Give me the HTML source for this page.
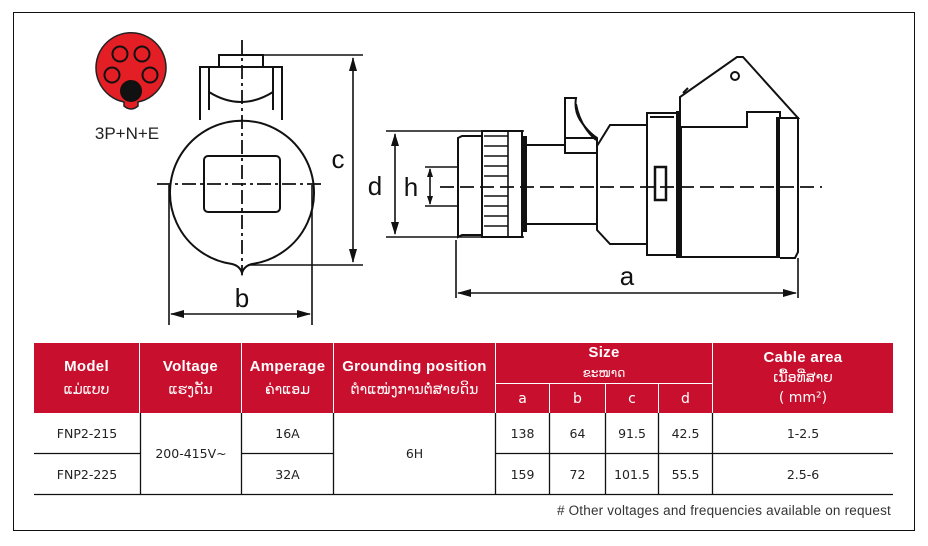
<!DOCTYPE html>
<html><head><meta charset="utf-8"><style>
*{margin:0;padding:0;box-sizing:border-box}
body{width:928px;height:546px;background:#fff;position:relative;overflow:hidden;font-family:"Liberation Sans","DejaVu Sans",sans-serif}
.frame{position:absolute;left:13px;top:12px;width:902px;height:519px;border:1.5px solid #111}
svg{position:absolute;left:0;top:0}
.c{position:absolute;display:flex;flex-direction:column;align-items:center;justify-content:center;text-align:center}
.h{background:#c8102e;color:#fff}
.h b{font-size:15px;letter-spacing:0.3px;line-height:18px}
.h span{font-size:14px;font-family:"DejaVu Sans",sans-serif;line-height:18px}
.h span.m{margin-top:5px}
.d{font-size:12.5px;color:#222;font-family:"DejaVu Sans","Liberation Sans",sans-serif}
</style></head><body>
<div class="frame"></div>
<svg width="928" height="546" viewBox="0 0 928 546" fill="none" stroke="#111" stroke-width="2">
<path d="M124 102 A35 35 0 1 1 138 102 L138 106 Q131 112 124 106 Z" fill="#e31e24" stroke="#222" stroke-width="1.5"/>
<circle cx="120" cy="54" r="7.5" stroke-width="2"/>
<circle cx="142" cy="54" r="7.5" stroke-width="2"/>
<circle cx="112" cy="75" r="7.5" stroke-width="2"/>
<circle cx="150" cy="75" r="7.5" stroke-width="2"/>
<circle cx="131" cy="91" r="10" fill="#111"/>
<text x="127" y="139" fill="#222" stroke="none" font-size="17" text-anchor="middle" font-family="Liberation Sans">3P+N+E</text>
<rect x="219" y="55" width="44" height="12"/>
<path d="M200 120 V67 H282 V120"/>
<path d="M209 67 V110 M273 67 V110"/>
<path d="M209 92 Q241 112 273 92"/>
<path d="M232 264 A72 72 0 1 1 252 264 Q244 266 242 273 Q240 266 232 264 Z" fill="#fff"/>
<rect x="204" y="156" width="76" height="56" rx="4"/>
<path d="M157 184 H325" stroke-dasharray="14 4 3 4" stroke-width="1.8"/>
<path d="M242 40 V275" stroke-dasharray="14 4 3 4" stroke-width="1.8"/>
<path d="M263 55 H363 M248 265 H363" stroke-width="1.6"/>
<path d="M353 58 V262" stroke-width="1.6"/>
<path d="M353 57 l-4 14 h8 z M353 263 l-4 -14 h8 z" fill="#111" stroke="none"/>
<path d="M169 185 V325 M312 185 V325" stroke-width="1.6"/>
<path d="M171 314 H310" stroke-width="1.6"/>
<path d="M170 314 l14 -4 v8 z M311 314 l-14 -4 v8 z" fill="#111" stroke="none"/>
<text x="338" y="168" fill="#111" stroke="none" font-size="26" text-anchor="middle">c</text>
<text x="242" y="307" fill="#111" stroke="none" font-size="26" text-anchor="middle">b</text>
<path d="M386 131 H524 M386 237 H524" stroke-width="1.6"/>
<path d="M395 134 V234" stroke-width="1.6"/>
<path d="M395 133 l-4 13 h8 z M395 235 l-4 -13 h8 z" fill="#111" stroke="none"/>
<path d="M425 167 H458 M425 206 H458" stroke-width="1.6"/>
<path d="M430 169 V204" stroke-width="1.6"/>
<path d="M430 168 l-3 9 h6 z M430 205 l-3 -9 h6 z" fill="#111" stroke="none"/>
<text x="375" y="195" fill="#111" stroke="none" font-size="26" text-anchor="middle">d</text>
<text x="411" y="196" fill="#111" stroke="none" font-size="26" text-anchor="middle">h</text>
<path d="M458 237 V138 L462 136 H482 V235 H462 Z"/>
<rect x="482" y="131" width="40" height="106"/>
<path d="M484 136 H508 M484 146 H508 M484 156 H508 M484 166 H508 M484 176 H508 M484 196 H508 M484 206 H508 M484 216 H508 M484 226 H508 M508 131 V237" stroke-width="1.6"/>
<rect x="522" y="137" width="4" height="94" fill="#111"/>
<path d="M526 145 H598 M526 224 H598"/>
<path d="M565 153 V98 H576 Q574 110 580 120 Q588 132 597 138 V153 Z M565 138 H597" fill="#fff"/>
<path d="M576 104 Q580 126 596 140"/>
<path d="M597 146 L610 125 H647 V244 H610 L597 230 Z" fill="#fff"/>
<rect x="647" y="113" width="30" height="142" fill="#fff"/>
<path d="M650 117 H674"/>
<rect x="677" y="112" width="103" height="145" fill="#fff"/>
<rect x="677" y="112" width="4" height="145" fill="#111"/>
<rect x="777" y="118" width="4" height="139" fill="#111"/>
<path d="M780 118 H798 V252 L795 258 H780" fill="#fff"/>
<path d="M680 127 V97 L737 57 H743 L798 118 H780 V112 H747 V127 Z" fill="#fff"/>
<circle cx="735" cy="76" r="4"/>
<path d="M683 93 L688 88"/>
<rect x="655" y="167" width="11" height="33" fill="#fff" stroke-width="2.5"/>
<path d="M440 187 H822" stroke-dasharray="14 6" stroke-width="1.8"/>
<path d="M456 240 V298 M798 258 V298" stroke-width="1.6"/>
<path d="M458 293 H796" stroke-width="1.6"/>
<path d="M457 293 l14 -4 v8 z M797 293 l-14 -4 v8 z" fill="#111" stroke="none"/>
<text x="627" y="285" fill="#111" stroke="none" font-size="26" text-anchor="middle">a</text>
</svg>

<div class="c h" style="left:34px;top:343px;width:105px;height:70px"><b>Model</b><span class="m">ແມ່ແບບ</span></div>
<div class="c h" style="left:140px;top:343px;width:101px;height:70px"><b>Voltage</b><span class="m">ແຮງດັນ</span></div>
<div class="c h" style="left:242px;top:343px;width:91px;height:70px"><b>Amperage</b><span class="m">ຄ່າແອມ</span></div>
<div class="c h" style="left:334px;top:343px;width:161px;height:70px"><b>Grounding position</b><span class="m">ຕຳແໜ່ງການຕໍ່ສາຍດິນ</span></div>
<div class="c h" style="left:496px;top:343px;width:216px;height:40px"><b>Size</b><span style="font-size:12px;margin-top:2px">ຂະໜາດ</span></div>
<div class="c h" style="left:496px;top:384px;width:53px;height:29px"><span>a</span></div>
<div class="c h" style="left:550px;top:384px;width:55px;height:29px"><span>b</span></div>
<div class="c h" style="left:606px;top:384px;width:52px;height:29px"><span>c</span></div>
<div class="c h" style="left:659px;top:384px;width:53px;height:29px"><span>d</span></div>
<div class="c h" style="left:713px;top:343px;width:180px;height:70px"><b>Cable area</b><span style="margin-top:2px">ເນື້ອທີ່ສາຍ</span><span style="margin-top:2px">( mm²)</span></div>
<svg width="928" height="546" stroke="#111" stroke-width="1.3">
<path d="M34 453.5 H140 M242 453.5 H334 M496 453.5 H893 M34 494.5 H893"/>
<path d="M140.5 413 V494 M241.5 413 V494 M333.5 413 V494 M495.5 413 V494 M549.5 413 V494 M605.5 413 V494 M658.5 413 V494 M712.5 413 V494"/>
</svg>
<div class="c d" style="left:34px;top:413px;width:106px;height:40px">FNP2-215</div>
<div class="c d" style="left:34px;top:454px;width:106px;height:40px">FNP2-225</div>
<div class="c d" style="left:141px;top:413px;width:100px;height:81px">200-415V~</div>
<div class="c d" style="left:242px;top:413px;width:91px;height:40px">16A</div>
<div class="c d" style="left:242px;top:454px;width:91px;height:40px">32A</div>
<div class="c d" style="left:334px;top:413px;width:161px;height:81px">6H</div>
<div class="c d" style="left:496px;top:413px;width:53px;height:40px">138</div>
<div class="c d" style="left:550px;top:413px;width:55px;height:40px">64</div>
<div class="c d" style="left:606px;top:413px;width:52px;height:40px">91.5</div>
<div class="c d" style="left:659px;top:413px;width:53px;height:40px">42.5</div>
<div class="c d" style="left:713px;top:413px;width:180px;height:40px">1-2.5</div>
<div class="c d" style="left:496px;top:454px;width:53px;height:40px">159</div>
<div class="c d" style="left:550px;top:454px;width:55px;height:40px">72</div>
<div class="c d" style="left:606px;top:454px;width:52px;height:40px">101.5</div>
<div class="c d" style="left:659px;top:454px;width:53px;height:40px">55.5</div>
<div class="c d" style="left:713px;top:454px;width:180px;height:40px">2.5-6</div>
<div style="position:absolute;right:37px;top:503px;font-size:13.5px;color:#333;letter-spacing:0.2px">#&nbsp;Other voltages and frequencies available on request</div>
</body></html>
